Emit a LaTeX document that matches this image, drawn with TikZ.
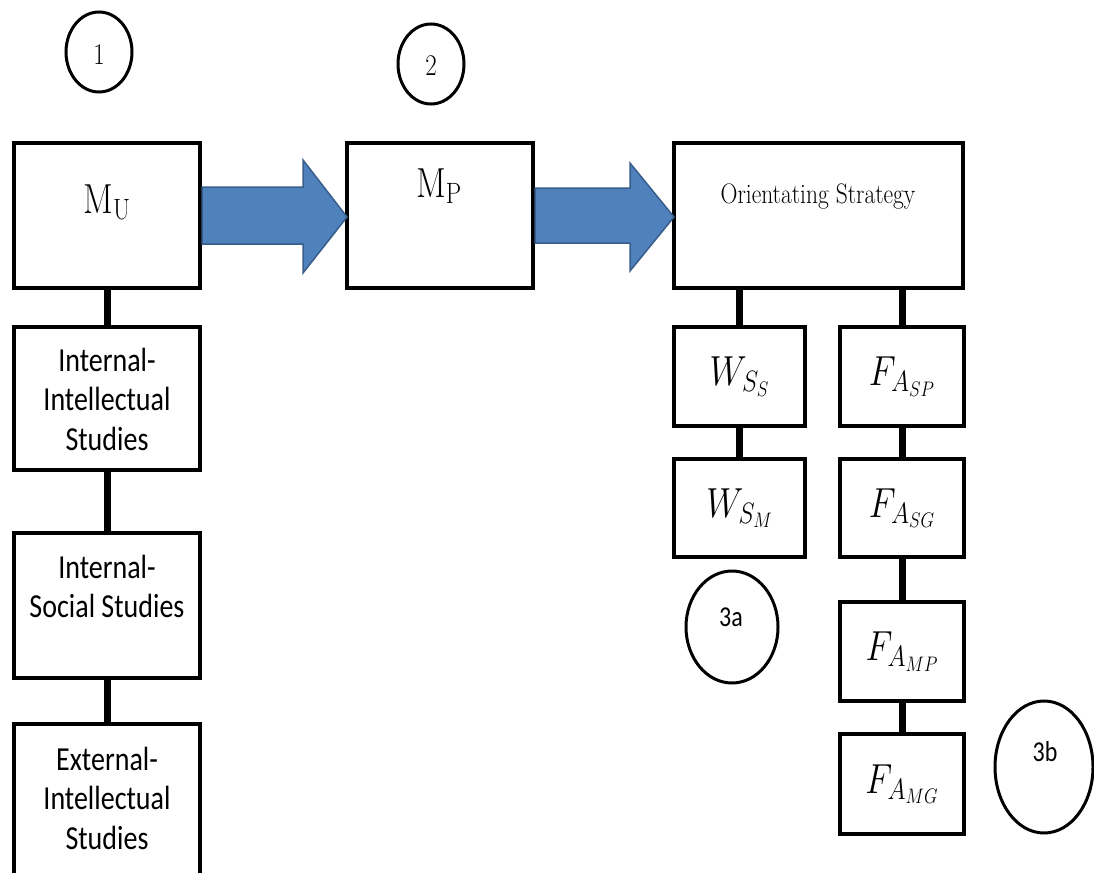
\RequirePackage{fix-cm}
\documentclass[tikz,border=0pt]{standalone}
\usepackage{graphicx}
\usepackage{fontspec}
\usetikzlibrary{shapes.geometric,calc}
\newfontfamily\calibri{Carlito}
\definecolor{arrowblue}{HTML}{4F81BD}
\definecolor{arrowedge}{HTML}{385D8A}
% text is set slightly taller than wide
\newcommand{\tall}[1]{\scalebox{1}[1.2]{#1}}
\newcommand{\tallstack}[1]{\scalebox{1}[1.2]{\begin{tabular}{@{}c@{}}#1\end{tabular}}}
\begin{document}
\begin{tikzpicture}[x=1pt,y=-1pt,
  box/.style={draw, rectangle, line width=4pt, fill=white, inner sep=0pt, outer sep=0pt},
  circ/.style={draw, ellipse, line width=3pt, inner sep=0pt, outer sep=0pt},
  conn/.style={line width=7pt},
  blockarrow/.style={fill=arrowblue, draw=arrowedge, line width=1.5pt, line join=miter},
  mathlbl/.style={font=\fontsize{35}{40}\selectfont, inner sep=0pt},
  sidelbl/.style={font=\calibri\fontsize{28}{33}\selectfont, inner sep=0pt},
  numlbl/.style={font=\fontsize{25}{30}\selectfont, inner sep=0pt},
  sublbl/.style={font=\calibri\fontsize{24}{30}\selectfont, inner sep=0pt}]
\useasboundingbox (0,0) rectangle (1094,872);
\begin{scope}
\clip (0,0) rectangle (1094,872);

% top row
\node[box, minimum width=186pt, minimum height=145pt] (mu) at (107,215.5) {};
\node[box, minimum width=186pt, minimum height=145pt] (mp) at (440,215.5) {};
\node[box, minimum width=289pt, minimum height=145pt] (os) at (818.5,215.5) {};

% left column
\node[box, minimum width=186pt, minimum height=143pt] (ii) at (107,398.5) {};
\node[box, minimum width=186pt, minimum height=145pt] (is) at (107,605.5) {};
\node[box, minimum width=186pt, minimum height=176pt] (ei) at (107,812) {};

% right columns
\node[box, mathlbl, minimum width=131pt, minimum height=99pt] (wss) at (739.5,376.5) {\tall{$W_{S_S}$}};
\node[box, mathlbl, minimum width=131pt, minimum height=98pt] (wsm) at (739.5,508) {\tall{$W_{S_M}$}};
\node[box, mathlbl, minimum width=124pt, minimum height=99pt] (fasp) at (902,376.5) {\tall{$F_{A_{SP}}$}};
\node[box, mathlbl, minimum width=124pt, minimum height=98pt] (fasg) at (902,508) {\tall{$F_{A_{SG}}$}};
\node[box, mathlbl, minimum width=124pt, minimum height=99pt] (famp) at (902,651.5) {\tall{$F_{A_{MP}}$}};
\node[box, mathlbl, minimum width=124pt, minimum height=100pt] (famg) at (902,784) {\tall{$F_{A_{MG}}$}};

% connectors
\draw[conn] (mu.south) -- (ii.north);
\draw[conn] (ii.south) -- (is.north);
\draw[conn] (is.south) -- (ei.north);
\draw[conn] (wss.north |- os.south) -- (wss.north);
\draw[conn] (wss.south) -- (wsm.north);
\draw[conn] (fasp.north |- os.south) -- (fasp.north);
\draw[conn] (fasp.south) -- (fasg.north);
\draw[conn] (fasg.south) -- (famp.north);
\draw[conn] (famp.south) -- (famg.north);

% block arrows between the top boxes
\draw[blockarrow] ($(mu.east)+(2,-28.5)$) -- (303,187) -- (303,160) -- ($(mp.west)+(0,1.5)$)
  -- (303,273) -- (303,244) -- ($(mu.east)+(2,28.5)$) -- cycle;
\draw[blockarrow] ($(mp.east)+(2,-27.5)$) -- (630,188) -- (630,163) -- ($(os.west)+(0,1.5)$)
  -- (630,271) -- (630,243) -- ($(mp.east)+(2,27.5)$) -- cycle;

% box texts
\node[mathlbl, anchor=base] (mut) at (107,213) {\tall{$\mathrm{M}_{\mathrm{U}}$}};
\node[mathlbl, anchor=base] (mpt) at (439,197) {\tall{$\mathrm{M}_{\mathrm{P}}$}};
\node[font=\fontsize{23.5}{28}\selectfont, inner sep=0pt] (ost) at (818,197) {\tall{Orientating Strategy}};
\node[sidelbl] (iit) at (107,403) {\tallstack{Internal-\\Intellectual\\Studies}};
\node[sidelbl] (ist) at (107,590) {\tallstack{Internal-\\Social Studies}};
\node[sidelbl] (eit) at (107,802) {\tallstack{External-\\Intellectual\\Studies}};

% numbered circles
\node[circ, minimum width=66pt, minimum height=80pt] (c1) at (99,52) {};
\node[numlbl] (c1t) at (99,55) {\tall{1}};
\node[circ, minimum width=66pt, minimum height=80pt] (c2) at (431,64) {};
\node[numlbl] (c2t) at (431,66) {\tall{2}};
\node[circ, minimum width=92pt, minimum height=112pt] (c3a) at (732,627) {};
\node[sublbl] (c3at) at (731,617) {\tall{3a}};
\node[circ, minimum width=98pt, minimum height=132pt] (c3b) at (1044,767) {};
\node[sublbl] (c3bt) at (1045,752) {\tall{3b}};
\end{scope}
\end{tikzpicture}
\end{document}
